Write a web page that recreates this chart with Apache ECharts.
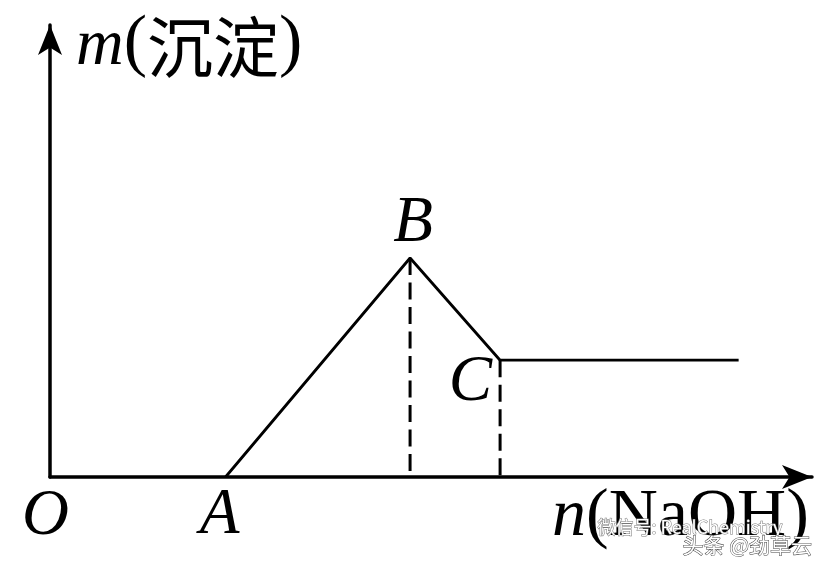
<!DOCTYPE html>
<html><head><meta charset="utf-8">
<script src="https://cdn.jsdelivr.net/npm/echarts@6/dist/echarts.min.js"></script>
<style>html,body{margin:0;padding:0;background:#fff}#c{width:831px;height:573px}</style>
</head><body><div id="c"></div>
<script>
// Data (arbitrary units)
const pointNames = ['A', 'B', 'C', ''];
const xValues = [3.9, 8, 10, 15.3];
const yValues = [0, 7.5, 4, 4];
const xMax = 16.93, yMax = 15.48;
const yTitleVar = 'm', yTitleWord = '沉淀';
const xTitleVar = 'n', xTitleWord = 'NaOH';
const originLabel = 'O';

const serif = 'Liberation Serif';
const main = xValues.map((x, i) => ({ value: [x, yValues[i]], name: pointNames[i] }));
const dashB = [[xValues[1], yValues[1]], [xValues[1], 0]];
const dashC = [[xValues[2], yValues[2]], [xValues[2], 0]];

const labelPos = {
  A: { position: 'bottom', distance: 6, offset: [-6, 0] },
  B: { position: 'top', distance: 2, offset: [3, 0] },
  C: { position: 'left', distance: 8, offset: [0, 23] }
};
main.forEach(d => {
  if (labelPos[d.name]) {
    d.label = Object.assign({ show: true, formatter: d.name, fontFamily: serif, fontStyle: 'italic', fontSize: 65, color: '#000' }, labelPos[d.name]);
  }
});

const chart = echarts.init(document.getElementById('c'), null, { renderer: 'canvas' });
const axisCommon = {
  type: 'value', min: 0,
  axisLabel: { show: false }, axisTick: { show: false }, splitLine: { show: false },
  axisLine: { show: true, onZero: false, symbol: ['none', 'arrow'], symbolSize: [18, 30], lineStyle: { color: '#000', width: 3.5 } }
};
chart.setOption({
  animation: false,
  grid: { left: 50, right: 19, top: 25, bottom: 96 },
  xAxis: Object.assign({}, axisCommon, { max: xMax }),
  yAxis: Object.assign({}, axisCommon, { max: yMax }),
  series: [
    { type: 'line', data: main, symbol: 'circle', symbolSize: 0.1, showSymbol: true, itemStyle: { color: '#000' }, lineStyle: { color: '#000', width: 2.8 }, z: 3 },
    { type: 'line', data: dashB, symbol: 'none', lineStyle: { color: '#000', width: 3, type: [17, 7.5] } },
    { type: 'line', data: dashC, symbol: 'none', lineStyle: { color: '#000', width: 3, type: [17, 7.5] } }
  ],
  graphic: [
    { type: 'text', left: 76, top: 10, style: { text: '{i|' + yTitleVar + '}{p|(}{c|' + yTitleWord + '}{p|)}', rich: {
        i: { fontFamily: serif, fontStyle: 'italic', fontSize: 66, fill: '#000', verticalAlign: 'bottom', lineHeight: 78 },
        p: { fontFamily: serif, fontSize: 70, fill: '#000', verticalAlign: 'bottom', lineHeight: 78 },
        c: { fontFamily: 'Noto Sans CJK SC', fontSize: 66, fill: '#000', verticalAlign: 'bottom', lineHeight: 78 } } } },
    { type: 'text', left: 22, top: 484, style: { text: originLabel, fontFamily: serif, fontStyle: 'italic', fontSize: 65, fill: '#000' } },
    { type: 'text', left: 552, top: 483, style: { text: '{i|' + xTitleVar + '}{p|(' + xTitleWord + ')}', rich: {
        i: { fontFamily: serif, fontStyle: 'italic', fontSize: 68, fill: '#000' },
        p: { fontFamily: serif, fontSize: 68, fill: '#000' } } } },
    { type: 'text', left: 597, top: 518, style: { text: '微信号: RealChemistry', fontFamily: 'Noto Sans CJK SC', fontSize: 18, fill: '#fff', stroke: '#777', lineWidth: 1 } },
    { type: 'text', left: 682, top: 534, style: { text: '头条 @劲草云', fontFamily: 'Noto Sans CJK SC', fontSize: 21, fill: '#fff', stroke: '#444', lineWidth: 1 } }
  ]
});
</script></body></html>
